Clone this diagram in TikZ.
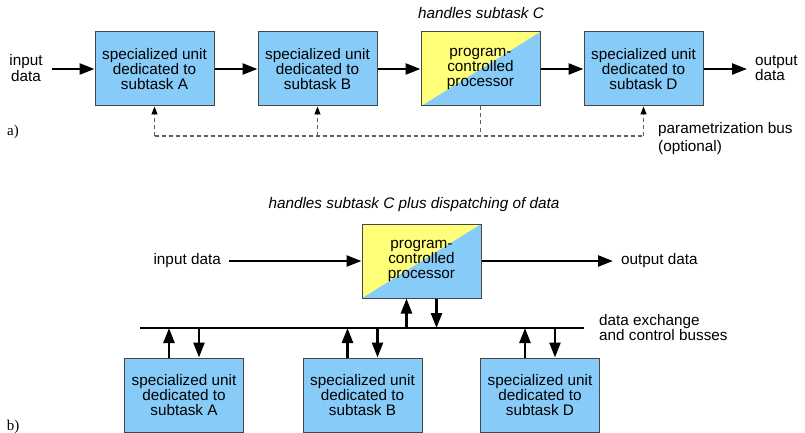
\documentclass[tikz,border=0pt]{standalone}
\usepackage{fontspec}
\setmainfont{Liberation Sans}
\newfontfamily\tagfont{Liberation Serif}
\usetikzlibrary{arrows.meta}
\definecolor{unitblue}{RGB}{135,204,248}
\definecolor{procyellow}{RGB}{255,255,122}
\definecolor{edgegray}{RGB}{70,70,70}
\definecolor{busgray}{RGB}{95,95,95}

\begin{document}
\begin{tikzpicture}[x=1pt,y=-1pt,
  every node/.style={inner sep=0pt},
  txt/.style={font=\fontsize{15.3}{15}\selectfont},
  unitbox/.style={draw=edgegray,line width=1pt,fill=unitblue,
    minimum width=119pt,minimum height=74pt,align=center,txt},
  procbox/.style={unitbox,path picture={
    \fill[procyellow] (path picture bounding box.south west)
      -- (path picture bounding box.north west)
      -- (path picture bounding box.north east) -- cycle;}},
  flow/.style={line width=2.5pt,-{Triangle[length=15pt,width=11pt]}},
  busline/.style={line width=2.5pt},
  parbus/.style={busgray,line width=1.1pt,dash pattern=on 4pt off 3pt},
  pararrow/.style={parbus,-{Triangle[length=8pt,width=6pt,black]}},
  note/.style={font=\fontsize{15.3}{15}\selectfont\itshape},
  tag/.style={font=\fontsize{15}{15}\selectfont\tagfont}]

\useasboundingbox (0,0) rectangle (805,433);

% ---------------- a) pipeline ----------------
\node[unitbox] (A) at (154.5,69) {specialized unit\\dedicated to\\subtask A};
\node[unitbox] (B) at (317.5,69) {specialized unit\\dedicated to\\subtask B};
\node[procbox] (C) at (480.5,69) {program-\\controlled\\processor};
\node[unitbox] (D) at (643.5,69) {specialized unit\\dedicated to\\subtask D};

\node[note] (Cnote) at (481,13) {handles subtask C};

\node[align=center,font=\fontsize{15.3}{12.5}\selectfont] (inTxt) at (26,68) {input\\data};
\node[align=left,anchor=west,font=\fontsize{15.3}{12.5}\selectfont] (outTxt) at (755,68) {output\\data};
\coordinate (inA) at (52,69);
\coordinate (outD) at (747,69);

\draw[flow] (inA) -- (A);
\draw[flow] (A) -- (B);
\draw[flow] (B) -- (C);
\draw[flow] (C) -- (D);
\draw[flow] (D) -- (outD);

% parametrization bus
\coordinate (pb) at (0,136);
\draw[parbus] (A.south |- pb) -- (D.south |- pb);
\draw[pararrow] (A.south |- pb) -- (A.south);
\draw[pararrow] (B.south |- pb) -- (B.south);
\draw[pararrow] (D.south |- pb) -- (D.south);
\draw[parbus] (C.south) -- (C.south |- pb);

\node[align=left,anchor=west,font=\fontsize{15.3}{18}\selectfont] (pbTxt) at (658,139)
  {parametrization bus\\(optional)};
\node[tag] (tagA) at (13,132) {a)};

% ---------------- b) bus-based ----------------
\node[procbox] (P) at (421.5,261) {program-\\controlled\\processor};
\node[note] (Pnote) at (414,205) {handles subtask C plus dispatching of data};

\node[txt,anchor=east] (inB) at (221,261) {input data};
\node[txt,anchor=west] (outB) at (621,261) {output data};
\coordinate (inBend) at (229,261);
\coordinate (outBend) at (613,261);
\draw[flow] (inBend) -- (P);
\draw[flow] (P) -- (outBend);

\coordinate (busL) at (140,328);
\coordinate (busR) at (584,328);
\draw[busline] (busL) -- (busR);
\node[txt,align=left,anchor=west] (busTxt) at (599,328)
  {data exchange\\and control busses};

\node[unitbox] (A2) at (184,395) {specialized unit\\dedicated to\\subtask A};
\node[unitbox] (B2) at (362.5,395) {specialized unit\\dedicated to\\subtask B};
\node[unitbox] (D2) at (540,395) {specialized unit\\dedicated to\\subtask D};

% processor <-> bus
\draw[flow] ([xshift=-15pt]P.south |- busL) -- ([xshift=-15pt]P.south);
\draw[flow] ([xshift=15pt]P.south) -- ([xshift=15pt]P.south |- busL);

% units <-> bus
\foreach \u in {A2,B2,D2}{
  \draw[flow] ([xshift=-15pt]\u.north) -- ([xshift=-15pt]\u.north |- busL);
  \draw[flow] ([xshift=15pt]\u.north |- busL) -- ([xshift=15pt]\u.north);
}

\node[tag] (tagB) at (13,427) {b)};
\end{tikzpicture}
\end{document}
